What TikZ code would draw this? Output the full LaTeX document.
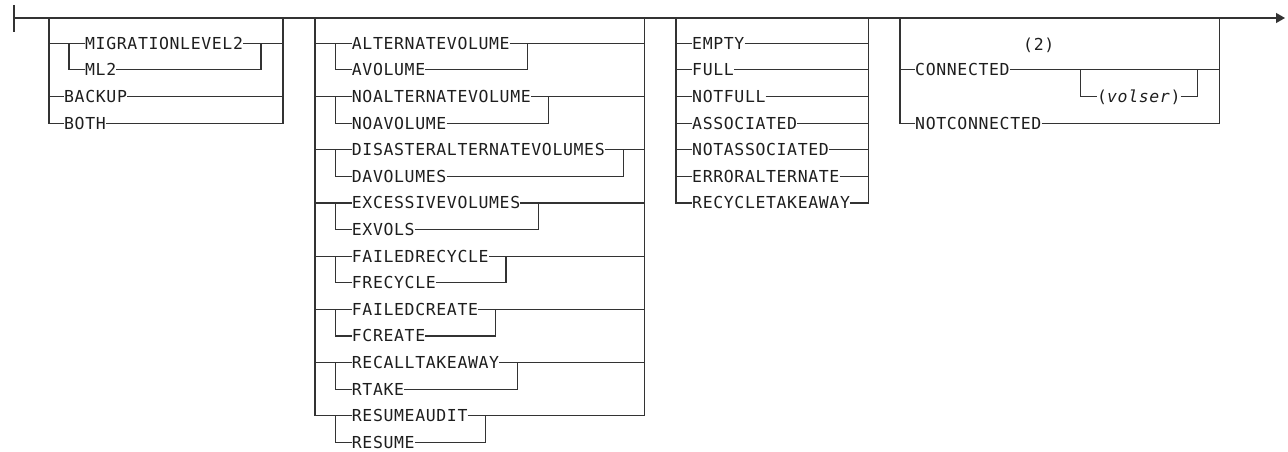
\documentclass[tikz,border=0pt]{standalone}
\usepackage{fontspec}
\usetikzlibrary{arrows.meta}
\newfontfamily\kwfont[LetterSpace=3.8]{DejaVu Sans Mono}
\definecolor{railcol}{HTML}{333333}
\definecolor{txtcol}{HTML}{1E1E1E}
\tikzset{
  rail/.style={draw=railcol, line width=1.2pt, line join=miter},
  kw/.style={anchor=west, inner sep=0pt, text=txtcol,
    font=\kwfont\fontsize{16.5}{19}\selectfont, text height=12pt, text depth=0pt},
}
\begin{document}
\begin{tikzpicture}[x=1pt,y=-1pt]
\useasboundingbox (0,0) rectangle (1288,452);
% ---------- main line ----------
\coordinate (tickT) at (14,5);
\coordinate (tickB) at (14,31.7);
\coordinate (start) at (14,18);
\coordinate (markA) at (20.7,18);
\coordinate (markB) at (28.3,18);
\coordinate (end) at (1285,18);
\draw[rail] (tickT) -- (tickB);
\draw[rail,-{Triangle[length=9pt,width=10pt]}] (start) -- (end);
\draw[rail,line width=2pt] (markA) -- (markB);
% ---------- group 1 ----------
\node[kw] (m1) at (85,43.3) {MIGRATIONLEVEL2};
\node[kw] (m2) at (85,69.9) {ML2};
\node[kw] (bk) at (64,96.5) {BACKUP};
\node[kw] (bo) at (64,123.1) {BOTH};
\coordinate (g1T) at (49,18);
\coordinate (g1L0) at (49,43.3);
\coordinate (g1L2) at (49,96.5);
\coordinate (g1il) at (69,43.3);
\coordinate (g1ir) at (261,43.3);
\coordinate (g1R0) at (283,43.3);
\coordinate (g1R2) at (283,96.5);
\coordinate (g1RT) at (283,18);
\draw[rail] (g1T) |- (bo.west);
\draw[rail] (g1L0) -- (m1.west);
\draw[rail] (g1il) |- (m2.west);
\draw[rail] (m2.east) -| (g1ir);
\draw[rail] (m1.east) -- (g1R0);
\draw[rail] (g1L2) -- (bk.west);
\draw[rail] (bk.east) -- (g1R2);
\draw[rail] (bo.east) -| (g1RT);
% ---------- group 2 ----------
\coordinate (g2T) at (315,18);
\coordinate (g2RT) at (644.3,18);
\foreach \a/\b/\r [count=\i from 0] in {
  ALTERNATEVOLUME/AVOLUME/527.3,
  NOALTERNATEVOLUME/NOAVOLUME/548.7,
  DISASTERALTERNATEVOLUMES/DAVOLUMES/623.3,
  EXCESSIVEVOLUMES/EXVOLS/538.3,
  FAILEDRECYCLE/FRECYCLE/506,
  FAILEDCREATE/FCREATE/495.7,
  RECALLTAKEAWAY/RTAKE/517.3,
  RESUMEAUDIT/RESUME/485.7}{
  \pgfmathsetmacro\ya{43.3+53.2*\i}
  \pgfmathsetmacro\yb{\ya+26.6}
  \node[kw] (g2a\i) at (351.7,\ya) {\a};
  \node[kw] (g2b\i) at (351.7,\yb) {\b};
  \coordinate (g2L\i) at (315,\ya);
  \coordinate (g2il\i) at (335.7,\ya);
  \coordinate (g2ir\i) at (\r,\ya);
  \coordinate (g2R\i) at (644.3,\ya);
  \draw[rail] (g2L\i) -- (g2a\i.west);
  \draw[rail] (g2il\i) |- (g2b\i.west);
  \draw[rail] (g2a\i.east) -- (g2R\i);
  \draw[rail] (g2b\i.east) -| (g2ir\i);
}
\draw[rail] (g2T) -- (g2L7);
\draw[rail] (g2RT) -- (g2R7);
% ---------- group 3 ----------
\coordinate (g3T) at (676,18);
\coordinate (g3RT) at (868.3,18);
\foreach \t [count=\i from 0] in {EMPTY,FULL,NOTFULL,ASSOCIATED,NOTASSOCIATED,ERRORALTERNATE}{
  \pgfmathsetmacro\y{43.3+26.6*\i}
  \node[kw] (g3t\i) at (692,\y) {\t};
  \coordinate (g3L\i) at (676,\y);
  \coordinate (g3R\i) at (868.3,\y);
  \draw[rail] (g3L\i) -- (g3t\i.west);
  \draw[rail] (g3t\i.east) -- (g3R\i);
}
\node[kw] (g3t6) at (692,202.9) {RECYCLETAKEAWAY};
\draw[rail] (g3T) |- (g3t6.west);
\draw[rail] (g3t6.east) -| (g3RT);
% ---------- group 4 ----------
\node[kw] (note) at (1023,44.5) {(2)};
\node[kw] (conn) at (915,69.9) {CONNECTED};
\node[kw] (vol) at (1097,96.5) {(\textit{volser})};
\node[kw] (nconn) at (915,123.1) {NOTCONNECTED};
\coordinate (g4T) at (900,18);
\coordinate (g4L1) at (900,69.9);
\coordinate (g4RT) at (1219.3,18);
\coordinate (g4R1) at (1219.3,69.9);
\coordinate (vL) at (1080.7,69.9);
\coordinate (vR) at (1197.7,69.9);
\draw[rail] (g4T) |- (nconn.west);
\draw[rail] (g4L1) -- (conn.west);
\draw[rail] (conn.east) -- (g4R1);
\draw[rail] (vL) |- (vol.west);
\draw[rail] (vol.east) -| (vR);
\draw[rail] (nconn.east) -| (g4RT);
\end{tikzpicture}
\end{document}
